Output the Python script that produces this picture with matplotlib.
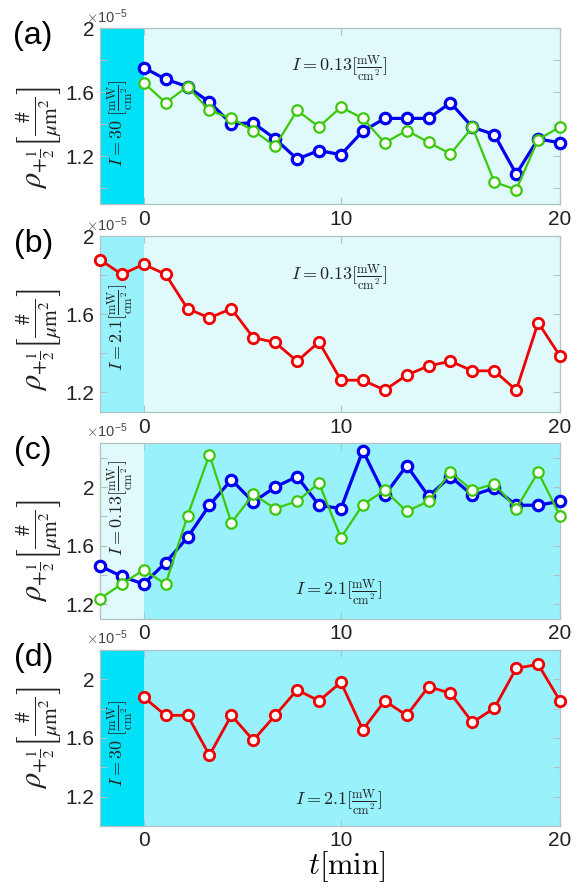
import matplotlib
matplotlib.use("Agg")
import matplotlib.pyplot as plt
import matplotlib.transforms as mtransforms
import numpy as np

plt.rcParams['font.family'] = ['Liberation Sans', 'DejaVu Sans']
plt.rcParams['mathtext.fontset'] = 'cm'

# frame index (frame 9 ~ 10 min, frame 19 ~ 20 min); densities in units of 1e-5 #/um^2
frames_pre = np.arange(-2, 20)
frames_post = np.arange(0, 20)
tick_frames = [0, 9, 19]
tick_labels = ['0', '10', '20']

a_blue = [1.755, 1.682, 1.636, 1.539, 1.403, 1.409, 1.309, 1.183, 1.236, 1.210,
          1.357, 1.437, 1.437, 1.437, 1.535, 1.382, 1.336, 1.089, 1.309, 1.284]
a_green = [1.661, 1.535, 1.636, 1.487, 1.437, 1.361, 1.263, 1.487, 1.384, 1.508,
           1.437, 1.284, 1.361, 1.288, 1.215, 1.382, 1.039, 0.991, 1.305, 1.384]
b_red = [1.880, 1.805, 1.856, 1.805, 1.629, 1.582, 1.629, 1.481, 1.456, 1.360, 1.459,
         1.263, 1.263, 1.212, 1.289, 1.336, 1.360, 1.311, 1.311, 1.212, 1.558, 1.386]
c_blue = [1.462, 1.390, 1.338, 1.485, 1.656, 1.876, 2.050, 1.898, 2.000, 2.072, 1.876,
          1.853, 2.249, 1.944, 2.147, 1.937, 2.072, 1.944, 1.993, 1.876, 1.876, 1.903]
c_green = [1.238, 1.338, 1.435, 1.338, 1.803, 2.221, 1.756, 1.950, 1.853, 1.903, 2.027,
           1.654, 1.880, 1.977, 1.835, 1.903, 2.102, 1.977, 2.023, 1.853, 2.102, 1.803]
d_red = [1.878, 1.754, 1.754, 1.482, 1.754, 1.584, 1.754, 1.928, 1.853, 1.980,
         1.656, 1.853, 1.754, 1.950, 1.905, 1.706, 1.803, 2.075, 2.102, 1.853]

DEEP = '#00E1F7'
MID = '#99F2FB'
LIGHT = '#E0FAFC'
BLUE = '#0000F0'
GREEN = '#3CC80A'
RED = '#F00000'
SPINE = '#AFC3C6'

frac = r'[\frac{\rm mW}{\rm cm^2}]'
ylab = r'$\rho_{+\frac{1}{2}}\left[\frac{\#}{\mu\mathrm{m}^2}\right]$'
panels = [
    dict(tag='(a)', ylim=(0.9, 2.0), left=DEEP, right=LIGHT, ly=0.38,
         series=[(frames_post, a_blue, BLUE, 2.3), (frames_post, a_green, GREEN, 1.6)],
         vtext=r'$I=30\ ' + frac + '$', vy=0.46, htext=r'$I=0.13' + frac + '$', hy=0.77),
    dict(tag='(b)', ylim=(1.1, 2.0), left=MID, right=LIGHT, ly=0.41,
         series=[(frames_pre, b_red, RED, 2.0)],
         vtext=r'$I=2.1' + frac + '$', vy=0.48, htext=r'$I=0.13' + frac + '$', hy=0.76),
    dict(tag='(c)', ylim=(1.1, 2.3), left=LIGHT, right=MID, ly=0.39,
         series=[(frames_pre, c_blue, BLUE, 2.3), (frames_pre, c_green, GREEN, 1.6)],
         vtext=r'$I=0.13' + frac + '$', vy=0.63, htext=r'$I=2.1' + frac + '$', hy=0.15),
    dict(tag='(d)', ylim=(1.0, 2.2), left=DEEP, right=MID, ly=0.50,
         series=[(frames_post, d_red, RED, 2.0)],
         vtext=r'$I=30\ ' + frac + '$', vy=0.47, htext=r'$I=2.1' + frac + '$', hy=0.13),
]

fig = plt.figure(figsize=(5.84, 8.88), dpi=100)
bottoms = [0.770, 0.536, 0.303, 0.070]

for p, b in zip(panels, bottoms):
    ax = fig.add_axes([0.171, b, 0.788, 0.198])
    ax.set_xlim(-2, 19)
    ax.set_ylim(*p['ylim'])
    ax.axvspan(-2, 0, color=p['left'], lw=0, zorder=0)
    ax.axvspan(0, 19, color=p['right'], lw=0, zorder=0)

    for x, y, c, lw in p['series']:
        ax.plot(x, y, '-o', color=c, lw=lw, ms=7.5, mfc='white', mec=c,
                mew=lw, zorder=3, clip_on=False)

    yt = np.round(np.arange(np.ceil(p['ylim'][0] * 5) / 5, p['ylim'][1] + 0.01, 0.2), 1)
    ax.set_yticks(yt)
    ax.set_yticklabels(['%g' % v if round(v * 10) % 4 == 0 else '' for v in yt])
    ax.set_xticks(tick_frames)
    ax.set_xticklabels(tick_labels)
    ax.tick_params(direction='in', length=5, width=0.8, color=SPINE, labelsize=15,
                   labelcolor='#222222', top=True, right=True, pad=4)
    for s in ax.spines.values():
        s.set_color(SPINE)
        s.set_linewidth(0.9)

    ax.text(-0.132, p['ly'], ylab, transform=ax.transAxes, rotation=90,
            fontsize=22, ha='center', va='center', color='#222222',
            math_fontfamily='stix')

    ax.text(-0.145, 0.955, p['tag'], transform=ax.transAxes, fontsize=23,
            ha='center', va='center', color='black')
    ax.text(-0.03, 1.015, r'$\times$10$^{\mathregular{-5}}$', transform=ax.transAxes,
            fontsize=10.5, ha='left', va='bottom', color='#444444')

    tr = mtransforms.blended_transform_factory(ax.transData, ax.transAxes)
    ax.text(-1.05, p['vy'], p['vtext'], transform=tr, rotation=90, fontsize=13,
            ha='center', va='center', color='#222222', zorder=4)
    ax.text(8.9, p['hy'], p['htext'], transform=tr, fontsize=13,
            ha='center', va='center', color='#222222', zorder=4)

fig.text(0.594, 0.024, r'$t[\mathrm{min}]$', fontsize=22, ha='center', va='center')

fig.savefig('out.png', dpi=100)
